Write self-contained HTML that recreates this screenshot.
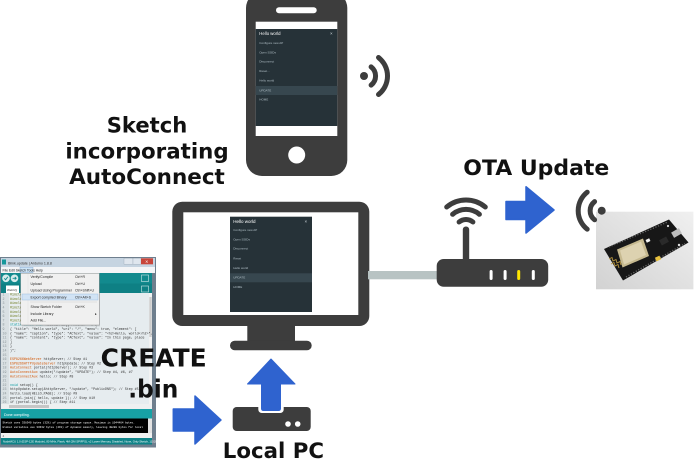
<!DOCTYPE html>
<html><head><meta charset="utf-8">
<style>
html,body{margin:0;padding:0;background:#fff;width:695px;height:461px;overflow:hidden}
svg{display:block}
.lbl{font-family:"DejaVu Sans","Liberation Sans",sans-serif;font-weight:bold;fill:#111}
.mono{font-family:"Liberation Mono","DejaVu Sans Mono",monospace}
.sans{font-family:"Liberation Sans","DejaVu Sans",sans-serif}
</style></head>
<body>
<svg width="695" height="461" viewBox="0 0 695 461" xmlns="http://www.w3.org/2000/svg">
<defs>
  <linearGradient id="photo" x1="0" y1="1" x2="1" y2="0">
    <stop offset="0" stop-color="#d2d2d2"/>
    <stop offset="1" stop-color="#f0f0f0"/>
  </linearGradient>
</defs>

<!-- ============ PHONE ============ -->
<rect x="246" y="-8" width="101.3" height="184" rx="16" fill="#3d3d3d"/>
<rect x="276" y="7.3" width="40.7" height="6" rx="3" fill="#fff"/>
<rect x="255.7" y="21.7" width="81.6" height="114.3" fill="#fff"/>
<rect x="255.7" y="29" width="81.6" height="97" fill="#263238"/>
<rect x="255.7" y="86" width="81.6" height="9" fill="#37474f"/>
<g class="sans" fill="#b0bec5" font-size="3">
  <text x="259.3" y="35" font-size="4.3" fill="#fff">Hello world</text>
  <text x="330" y="35" font-size="4.5" fill="#cfd8dc">×</text>
  <text x="259.3" y="43.8">Configure new AP</text>
  <text x="259.3" y="53.3">Open SSIDs</text>
  <text x="259.3" y="62.7">Disconnect</text>
  <text x="259.3" y="72">Reset...</text>
  <text x="259.3" y="81.7">Hello world</text>
  <text x="259.3" y="91.3">UPDATE</text>
  <text x="259.3" y="100.3">HOME</text>
</g>
<circle cx="296.7" cy="155" r="8.5" fill="#fff"/>

<!-- phone wifi -->
<circle cx="364" cy="76" r="4" fill="#3d3d3d"/>
<path d="M371.1 66.9 A11.5 11.5 0 0 1 371.1 85.1" fill="none" stroke="#3d3d3d" stroke-width="5" stroke-linecap="round"/>
<path d="M378.5 57.5 A23.5 23.5 0 0 1 378.5 94.5" fill="none" stroke="#3d3d3d" stroke-width="5" stroke-linecap="round"/>

<!-- ============ LABELS ============ -->
<text class="lbl" x="147" y="132.5" font-size="21.5" text-anchor="middle" textLength="80.6" lengthAdjust="spacingAndGlyphs">Sketch</text>
<text class="lbl" x="147" y="158.3" font-size="21.5" text-anchor="middle" textLength="163.3" lengthAdjust="spacingAndGlyphs">incorporating</text>
<text class="lbl" x="147" y="184" font-size="21.5" text-anchor="middle" textLength="155.7" lengthAdjust="spacingAndGlyphs">AutoConnect</text>
<text class="lbl" x="536.3" y="175" font-size="21.5" text-anchor="middle" textLength="146" lengthAdjust="spacingAndGlyphs">OTA Update</text>

<!-- ============ MONITOR ============ -->
<rect x="247.3" y="320" width="47.7" height="22" fill="#3d3d3d"/>
<rect x="230" y="340.7" width="81.7" height="9.5" rx="4.7" fill="#3d3d3d"/>
<rect x="172.3" y="201.7" width="197" height="124.3" rx="10" fill="#3d3d3d"/>
<rect x="183.3" y="212.3" width="175" height="102.7" fill="#fff"/>
<rect x="230" y="216.7" width="82" height="95.3" fill="#263238"/>
<rect x="230" y="273.3" width="82" height="9" fill="#37474f"/>
<g class="sans" fill="#b0bec5" font-size="3">
  <text x="233.3" y="222.8" font-size="4.5" fill="#fff">Hello world</text>
  <text x="304.5" y="223" font-size="4.5" fill="#cfd8dc">×</text>
  <text x="233.3" y="231">Configure new AP</text>
  <text x="233.3" y="240.3">Open SSIDs</text>
  <text x="233.3" y="249.7">Disconnect</text>
  <text x="233.3" y="259.3">Reset</text>
  <text x="233.3" y="269">Hello world</text>
  <text x="233.3" y="278.5">UPDATE</text>
  <text x="233.3" y="288">HOME</text>
</g>

<!-- cable -->
<rect x="368" y="271" width="70" height="8.3" fill="#b8c3c3"/>

<!-- ============ ROUTER ============ -->
<path d="M446.7 207 A30 30 0 0 1 485.3 207" fill="none" stroke="#3d3d3d" stroke-width="5" stroke-linecap="round"/>
<path d="M452.6 214.3 A20.8 20.8 0 0 1 479.4 214.3" fill="none" stroke="#3d3d3d" stroke-width="5" stroke-linecap="round"/>
<path d="M459.1 222 A10.8 10.8 0 0 1 472.9 222" fill="none" stroke="#3d3d3d" stroke-width="5" stroke-linecap="round"/>
<rect x="462.8" y="226.5" width="6.4" height="36" rx="3" fill="#3d3d3d"/>
<rect x="436.7" y="259" width="111.5" height="27.8" rx="7" fill="#3d3d3d"/>
<rect x="489.6" y="270" width="3" height="10" rx="1.5" fill="#fff"/>
<rect x="503.6" y="270" width="3" height="10" rx="1.5" fill="#fff"/>
<rect x="517.2" y="270" width="3" height="10" rx="1.5" fill="#ffe600"/>
<rect x="531.8" y="270" width="3" height="10" rx="1.5" fill="#fff"/>

<!-- OTA arrow -->
<path d="M506 201.5 H526 V186.7 L554 210 L526 233 V219.5 H506 Z" fill="#2f63cf" stroke="#2f63cf" stroke-width="1.5" stroke-linejoin="round"/>

<!-- ============ ESP PHOTO ============ -->
<rect x="596" y="211.7" width="97.4" height="77.6" fill="url(#photo)"/>
<polygon points="604,249 669,219.5 688.5,242.5 623,280.5" fill="#171717"/>
<line x1="609" y1="247" x2="667" y2="222.3" stroke="#6a6a6a" stroke-width="1.3" stroke-dasharray="1.2 1.6"/>
<line x1="626" y1="277" x2="685" y2="243.5" stroke="#6a6a6a" stroke-width="1.3" stroke-dasharray="1.2 1.6"/>
<polygon points="617,249.5 643,238.5 649,256 622.5,267.5" fill="#c6b98f"/>
<polygon points="620,250.5 641,241.5 646,255 624,264.5" fill="#ddd2b0"/>
<polyline points="609,259 612,257.5 613,261 616,259.5 617,263 620,261.5 621,265" fill="none" stroke="#b8963e" stroke-width="0.9"/>
<polyline points="611,264 614,262.5 615,266 618,264.5 619,268" fill="none" stroke="#b8963e" stroke-width="0.9"/>
<rect x="646" y="239" width="4" height="3" fill="#f4f4f4" transform="rotate(-25 648 240.5)"/>
<rect x="655.5" y="256.5" width="5" height="4" fill="#e8c23e" transform="rotate(-25 658 258.5)"/>
<rect x="672" y="230" width="9" height="6" fill="#bdbdbd" transform="rotate(-30 676.5 233)"/>
<rect x="660" y="238" width="8" height="6" fill="#2a2a2a" transform="rotate(-28 664 241)"/>
<circle cx="679" cy="245" r="1.2" fill="#ddd"/>
<circle cx="668" cy="226" r="1.1" fill="#ddd"/>

<!-- ESP wifi -->
<path d="M594.6 201.6 A11.5 11.5 0 0 0 594.6 219.8" fill="none" stroke="#3d3d3d" stroke-width="5" stroke-linecap="round"/>
<path d="M587.2 192.2 A23.5 23.5 0 0 0 587.2 229.2" fill="none" stroke="#3d3d3d" stroke-width="5" stroke-linecap="round"/>
<circle cx="601.7" cy="210.7" r="4" fill="#3d3d3d"/>

<!-- ============ IDE SCREENSHOT ============ -->
<g>
<rect x="0" y="257" width="156" height="190.5" fill="#6f7f8e"/>
<rect x="1" y="258" width="154" height="9" fill="#c6d4e1"/>
<rect x="2" y="259.5" width="4" height="5" fill="#16979b"/>
<text class="sans" x="8" y="264.5" font-size="3.6" fill="#333">Blink.update | Arduino 1.8.8</text>
<rect x="124" y="258.3" width="9" height="6" fill="#dfe6ee" stroke="#8b9aa8" stroke-width="0.3"/>
<rect x="133" y="258.3" width="8" height="6" fill="#dfe6ee" stroke="#8b9aa8" stroke-width="0.3"/>
<rect x="141" y="258.3" width="12" height="6" fill="#c8453a"/>
<text class="sans" x="145.3" y="263.3" font-size="5" fill="#fff">×</text>
<rect x="1" y="267" width="154" height="6" fill="#f4f5f7"/>
<rect x="20" y="267.3" width="13" height="5.5" fill="#cce4f7" stroke="#7da2ce" stroke-width="0.4"/>
<text class="sans" x="2.5" y="271.6" font-size="3.4" fill="#222">File  Edit  Sketch  Tools  Help</text>
<rect x="1" y="273" width="151" height="10.5" fill="#128a8e"/>
<circle cx="6" cy="278.3" r="3.8" fill="#d6ebeb"/>
<circle cx="14.5" cy="278.3" r="3.8" fill="#d6ebeb"/>
<path d="M4.3 278.3 L5.6 279.8 L7.8 276.8" fill="none" stroke="#128a8e" stroke-width="0.9"/>
<path d="M12.6 278.3 H16 M14.8 277 L16.2 278.3 L14.8 279.6" fill="none" stroke="#128a8e" stroke-width="0.9"/>
<rect x="141.5" y="275" width="7" height="6.5" fill="none" stroke="#cde8e8" stroke-width="0.6"/>
<rect x="1" y="283.5" width="151" height="9.5" fill="#0e8084"/>
<rect x="6" y="285.5" width="13" height="7.5" fill="#fff"/>
<text class="sans" x="7" y="290.8" font-size="3" fill="#333">WebU§</text>
<rect x="141.5" y="286" width="7" height="6" fill="none" stroke="#cde8e8" stroke-width="0.6"/>
<rect x="1" y="293" width="148" height="111" fill="#e6ecef"/>
<rect x="1" y="293" width="8" height="111" fill="#d9e0e3"/>
<rect x="149" y="293" width="3" height="111" fill="#f2f2f2"/>
<rect x="149.3" y="297" width="2.4" height="40" fill="#cdcdcd"/>
<g class="mono" font-size="3.3" fill="#8a9599">
  <text x="2.5" y="295.6">1</text><text x="2.5" y="299.9">2</text><text x="2.5" y="304.2">3</text><text x="2.5" y="308.5">4</text><text x="2.5" y="312.8">5</text><text x="2.5" y="317.1">6</text><text x="2.5" y="321.4">7</text><text x="2.5" y="325.7">8</text><text x="2.5" y="330">9</text><text x="2.5" y="334.3">10</text><text x="2.5" y="338.6">11</text><text x="2.5" y="342.9">12</text><text x="2.5" y="347.2">13</text><text x="2.5" y="351.5">14</text><text x="2.5" y="355.8">15</text><text x="2.5" y="360.1">16</text><text x="2.5" y="364.4">17</text><text x="2.5" y="368.7">18</text><text x="2.5" y="373">19</text><text x="2.5" y="377.3">20</text><text x="2.5" y="381.6">21</text><text x="2.5" y="385.9">22</text><text x="2.5" y="390.2">23</text><text x="2.5" y="394.5">24</text><text x="2.5" y="398.8">25</text><text x="2.5" y="403.1">26</text>
</g>
<g class="mono" font-size="3.3" fill="#333">
  <text x="10" y="295.6" fill="#5e6d03">#include &lt;ESP8266WiFi.h&gt;</text>
  <text x="10" y="299.9" fill="#5e6d03">#include &lt;ESP8266WebServer.h&gt;</text>
  <text x="10" y="304.2" fill="#5e6d03">#include &lt;ESP8266HTTPUpdateServer.h&gt;</text>
  <text x="10" y="308.5" fill="#5e6d03">#include &lt;AutoConnect.h&gt;           #1</text>
  <text x="10" y="312.8" fill="#5e6d03">#include &lt;AutoConnectAux.h&gt;        #1</text>
  <text x="10" y="317.1" fill="#5e6d03">#include &lt;FS.h&gt;                    #1</text>
  <text x="10" y="321.4" fill="#5e6d03">#include &lt;Ticker.h&gt;</text>
  <text x="10" y="325.7"><tspan fill="#00979c">static const char</tspan> HELLO_PAGE[] PROGMEM = R"(</text>
  <text x="10" y="330">{ "title": "Hello world", "uri": "/", "menu": true, "element": [</text>
  <text x="10" y="334.3">   { "name": "caption", "type": "ACText", "value": "&lt;h2&gt;Hello, world&lt;/h2&gt;",</text>
  <text x="10" y="338.6">   { "name": "content", "type": "ACText", "value": "In this page, place</text>
  <text x="10" y="342.9">]</text>
  <text x="10" y="347.2">}</text>
  <text x="10" y="351.5">)";</text>
  <text x="10" y="360.1"><tspan fill="#d35400">ESP8266WebServer</tspan> httpServer;           // Step #1</text>
  <text x="10" y="364.4"><tspan fill="#d35400">ESP8266HTTPUpdateServer</tspan> httpUpdate;    // Step #2</text>
  <text x="10" y="368.7"><tspan fill="#d35400">AutoConnect</tspan> portal(httpServer);        // Step #3</text>
  <text x="10" y="373"><tspan fill="#d35400">AutoConnectAux</tspan> update("/update", "UPDATE"); // Step #4, #6, #7</text>
  <text x="10" y="377.3"><tspan fill="#d35400">AutoConnectAux</tspan> hello;                  // Step #8</text>
  <text x="10" y="385.9"><tspan fill="#00979c">void</tspan> setup() {</text>
  <text x="10" y="390.2">  httpUpdate.setup(&amp;httpServer, "/update", "PublicDNS"); // Step #5</text>
  <text x="10" y="394.5">  hello.load(HELLO_PAGE);                 // Step #9</text>
  <text x="10" y="398.8">  portal.join({ hello, update });         // Step #10</text>
  <text x="10" y="403.1">  if (portal.begin()) {                   // Step #11</text>
</g>
<rect x="1" y="404" width="151" height="5" fill="#eef0f1"/>
<rect x="9" y="405" width="40" height="3" fill="#c6c6c6"/>
<rect x="1" y="409" width="151" height="9.5" fill="#17a1a5"/>
<text class="sans" x="4" y="415.8" font-size="3.6" fill="#fff">Done compiling.</text>
<rect x="1" y="418.5" width="147" height="14.5" fill="#000"/>
<rect x="148" y="418.5" width="4" height="14.5" fill="#e2e2e2"/>
<g class="mono" font-size="2.7" fill="#fff">
  <text x="2.5" y="423.3">Sketch uses 338340 bytes (32%) of program storage space. Maximum is 1044464 bytes.</text>
  <text x="2.5" y="427.8">Global variables use 33632 bytes (41%) of dynamic memory, leaving 48288 bytes for local</text>
</g>
<rect x="1" y="433" width="151" height="5" fill="#f0f0f0"/>
<text class="sans" x="2.5" y="437" font-size="3" fill="#555">4</text>
<rect x="1" y="438" width="151" height="6.5" fill="#0e8388"/>
<text class="sans" x="3" y="442.6" font-size="2.8" fill="#fff">NodeMCU 1.0 (ESP-12E Module), 80 MHz, Flash, 4M (3M SPIFFS), v2 Lower Memory, Disabled, None, Only Sketch, 115200 on COM4</text>
<!-- dropdown -->
<rect x="22" y="274.3" width="78" height="52" fill="#000" opacity="0.15"/>
<rect x="20.7" y="273.3" width="78.6" height="51.7" fill="#f0f0f0" stroke="#979797" stroke-width="0.5"/>
<line x1="28" y1="274" x2="28" y2="324.5" stroke="#e2e3e3" stroke-width="0.6"/>
<rect x="22" y="294" width="76" height="6" fill="#d1e3f5" stroke="#8fb6de" stroke-width="0.4"/>
<line x1="30" y1="302" x2="97" y2="302" stroke="#cfcfcf" stroke-width="0.5"/>
<g class="sans" font-size="3.5" fill="#222">
  <text x="30.5" y="278">Verify/Compile</text><text x="75" y="278">Ctrl+R</text>
  <text x="30.5" y="285.2">Upload</text><text x="75" y="285.2">Ctrl+U</text>
  <text x="30.5" y="291.5">Upload Using Programmer</text><text x="75" y="291.5">Ctrl+Shift+U</text>
  <text x="30.5" y="298.5">Export compiled Binary</text><text x="75" y="298.5">Ctrl+Alt+S</text>
  <text x="30.5" y="308.2">Show Sketch Folder</text><text x="75" y="308.2">Ctrl+K</text>
  <text x="30.5" y="314.9">Include Library</text><text x="95" y="314.9">▸</text>
  <text x="30.5" y="321.5">Add File...</text>
</g>
</g>

<!-- CREATE .bin -->
<text class="lbl" x="153.7" y="366.7" font-size="24.5" text-anchor="middle" textLength="106" lengthAdjust="spacingAndGlyphs">CREATE</text>
<text class="lbl" x="153.3" y="397.7" font-size="24.5" text-anchor="middle" textLength="50" lengthAdjust="spacingAndGlyphs">.bin</text>

<!-- left arrow -->
<path d="M173.3 409 H195 V396 L221 420 L195 444 V431 H173.3 Z" fill="#2f63cf" stroke="#2f63cf" stroke-width="1.5" stroke-linejoin="round"/>

<!-- Local PC tray -->
<rect x="232.7" y="407" width="78" height="24" rx="4" fill="#3d3d3d"/>
<rect x="258.3" y="398" width="25.4" height="15" rx="3.5" fill="#fff"/>
<circle cx="288" cy="424" r="2.8" fill="#fff"/>
<circle cx="297.7" cy="424" r="2.8" fill="#fff"/>
<!-- up arrow -->
<path d="M271 359 L295 384 H280.5 V408.5 Q280.5 410.5 278.5 410.5 H263.5 Q261.5 410.5 261.5 408.5 V384 H247.5 Z" fill="#2f63cf" stroke="#2f63cf" stroke-width="1" stroke-linejoin="round"/>

<text class="lbl" x="273.4" y="458" font-size="21.5" text-anchor="middle" textLength="101.3" lengthAdjust="spacingAndGlyphs">Local PC</text>
</svg>
</body></html>
